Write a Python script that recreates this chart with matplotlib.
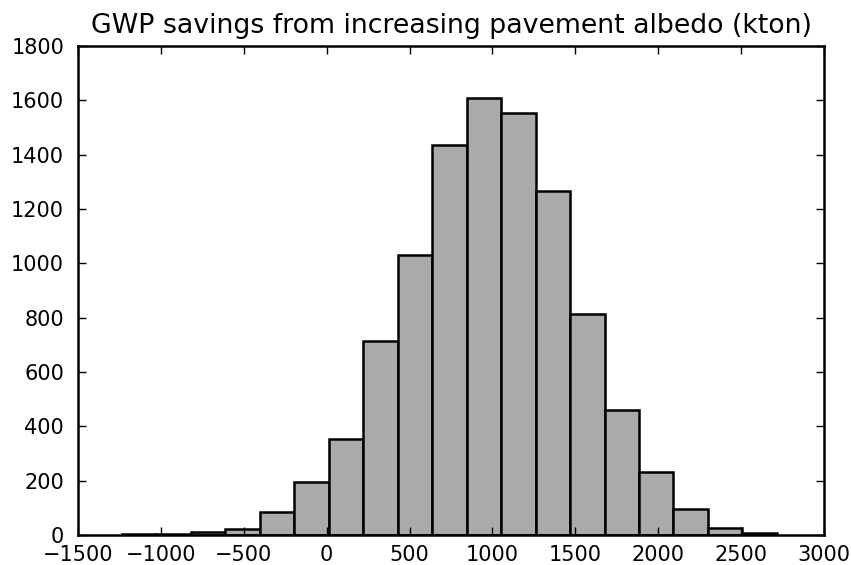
import numpy as np
import matplotlib
matplotlib.use("Agg")
import matplotlib.pyplot as plt

# histogram bins (kton) and counts per bin
bin_left = -1236.0
bin_width = 208.0
counts = [3, 5, 12, 22, 85, 195, 355, 715, 1030, 1435,
          1610, 1555, 1265, 815, 460, 232, 95, 25, 6]
edges = bin_left + bin_width * np.arange(len(counts) + 1)

xticks = [-1500, -1000, -500, 0, 500, 1000, 1500, 2000, 2500, 3000]
yticks = [0, 200, 400, 600, 800, 1000, 1200, 1400, 1600, 1800]

fig = plt.figure(figsize=(8.51, 5.65), dpi=100)
ax = fig.add_axes([0.0917, 0.0531, 0.8766, 0.8655])

ax.hist(edges[:-1], bins=edges, weights=counts,
        color="#aaaaaa", edgecolor="black", linewidth=1.8)

ax.set_xlim(-1500, 3000)
ax.set_ylim(0, 1800)
ax.set_xticks(xticks)
ax.set_yticks(yticks)
ax.tick_params(direction="in", length=6, width=1, top=True, right=True,
               labelsize=15)
ax.tick_params(axis="x", pad=7)
ax.tick_params(axis="y", pad=10)
for s in ax.spines.values():
    s.set_linewidth(1.8)

ax.set_title("GWP savings from increasing pavement albedo (kton)",
             fontsize=19.3, pad=9)

fig.savefig("out.png", dpi=100)
